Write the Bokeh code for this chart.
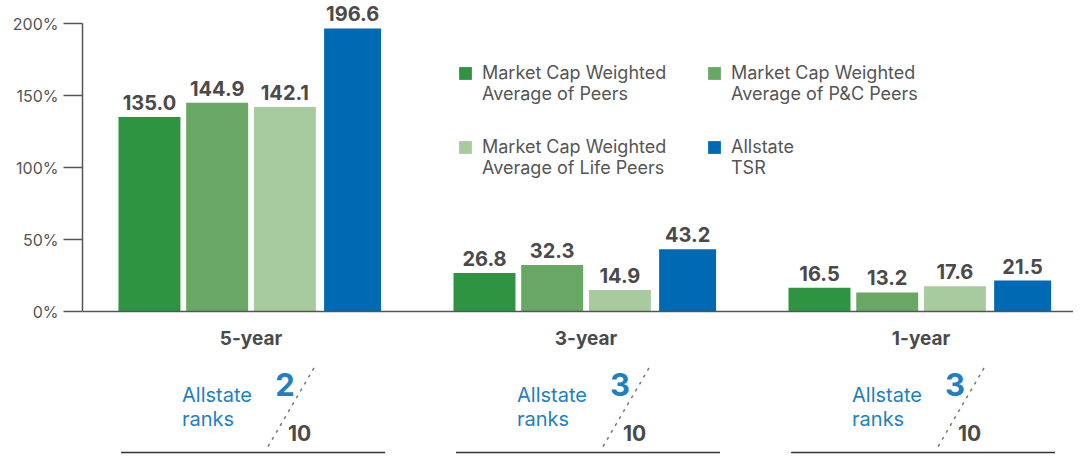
from bokeh.plotting import figure
from bokeh.models import ColumnDataSource, Span, FixedTicker, Legend, LegendItem
from bokeh.core.properties import value
from bokeh.embed import file_html
from bokeh.resources import INLINE

# ---------------- data ----------------
periods = ["5-year", "3-year", "1-year"]
series_names = [
    "Market Cap Weighted\nAverage of Peers",
    "Market Cap Weighted\nAverage of P&C Peers",
    "Market Cap Weighted\nAverage of Life Peers",
    "Allstate\nTSR",
]
peers = [135.0, 26.8, 16.5]
pc_peers = [144.9, 32.3, 13.2]
life_peers = [142.1, 14.9, 17.6]
allstate_tsr = [196.6, 43.2, 21.5]
ranks = ["2", "3", "3"]
rank_total = "10"
y_ticks = [0, 50, 100, 150, 200]
y_tick_labels = ["0%", "50%", "100%", "150%", "200%"]

colors = ["#2e9441", "#69a864", "#a8ca9f", "#0069b4"]
FONT = "Inter"
TXT = "#4a4a4a"
BLUE_TXT = "#1f7fc2"

# ---------------- layout ----------------
W, H = 1073, 454
LEFT = 82
x_range = (-0.503, 2.455)
y_range = (-(H - 311) / 1.44, 200 + 23 / 1.44)
XPX = (x_range[1] - x_range[0]) / (W - LEFT)   # data units per px (x)
YPX = (y_range[1] - y_range[0]) / H            # data units per px (y)
step = 0.2021
bar_w = [0.185, 0.185, 0.185, 0.17]

p = figure(width=W, height=H, x_range=x_range, y_range=y_range,
           output_backend="svg", toolbar_location=None,
           x_axis_location=None, min_border_left=LEFT, min_border_right=0,
           min_border_top=0, min_border_bottom=0, outline_line_color=None)
p.xgrid.visible = False
p.ygrid.visible = False

yax = p.yaxis[0]
yax.bounds = (0, 200)
yax.ticker = FixedTicker(ticks=y_ticks)
yax.major_label_overrides = {t: l for t, l in zip(y_ticks, y_tick_labels)}
yax.axis_line_color = "#555555"
yax.axis_line_width = 1.5
yax.major_tick_line_color = "#555555"
yax.major_tick_line_width = 1.5
yax.major_tick_out = 19
yax.major_tick_in = 0
yax.minor_tick_line_color = None
yax.major_label_standoff = 5
yax.major_label_text_font = FONT
yax.major_label_text_font_size = "16px"
yax.major_label_text_color = "#555555"

p.add_layout(Span(location=0, dimension="width", line_color="#555555", line_width=1.5))

all_series = [peers, pc_peers, life_peers, allstate_tsr]
renderers = []
for j, vals in enumerate(all_series):
    xs = [i + (j - 1.5) * step for i in range(len(periods))]
    src = ColumnDataSource(dict(x=xs, top=vals, lab=["%.1f" % v for v in vals]))
    r = p.vbar(x="x", top="top", width=bar_w[j], bottom=0, source=src,
               fill_color=colors[j], line_color=None)
    p.text(x="x", y="top", text="lab", source=src, text_align="center",
           text_baseline="bottom", y_offset=-7, text_font=value(FONT),
           text_font_style="bold", text_font_size="20px", text_color=TXT)
    renderers.append(r)

gx = list(range(len(periods)))
zeros = [0] * len(periods)
p.text(x=gx, y=zeros, text=periods, text_align="center", text_baseline="middle",
       y_offset=27, text_font=value(FONT), text_font_style="bold",
       text_font_size="19px", text_color=TXT)

# rank annotations
p.text(x=gx, y=zeros, text=["Allstate"] * 3, x_offset=-69, y_offset=83,
       text_align="left", text_baseline="middle", text_font=value(FONT),
       text_font_size="20px", text_color=BLUE_TXT)
p.text(x=gx, y=zeros, text=["ranks"] * 3, x_offset=-69, y_offset=107,
       text_align="left", text_baseline="middle", text_font=value(FONT),
       text_font_size="20px", text_color=BLUE_TXT)
p.text(x=gx, y=zeros, text=ranks, x_offset=34, y_offset=73,
       text_align="center", text_baseline="middle", text_font=value(FONT),
       text_font_style="bold", text_font_size="31px", text_color=BLUE_TXT)
p.text(x=gx, y=zeros, text=[rank_total] * 3, x_offset=37, y_offset=121,
       text_align="left", text_baseline="middle", text_font=value(FONT),
       text_font_style="bold", text_font_size="21px", text_color=TXT)
p.segment(x0=[i + 17 * XPX for i in gx], y0=[-135 * YPX] * 3,
          x1=[i + 65 * XPX for i in gx], y1=[-53 * YPX] * 3,
          line_color="#777777", line_width=1.5, line_dash="3 5")
p.segment(x0=[i - 130 * XPX for i in gx], y0=[-141 * YPX] * 3,
          x1=[i + 134 * XPX for i in gx], y1=[-141 * YPX] * 3,
          line_color="#333333", line_width=1.5)

# legend: rows = (Peers, P&C), (Life, TSR); Bokeh fills columns first
order = [0, 2, 1, 3]
items = [LegendItem(label="\n" + series_names[k], renderers=[renderers[k]]) for k in order]
legend = Legend(items=items, ncols=2, location=(375, 276),
                glyph_width=16, glyph_height=16, label_standoff=9,
                spacing=11, padding=0, margin=0, label_width=213,
                border_line_color=None, background_fill_alpha=0,
                label_text_font=FONT, label_text_font_size="18px",
                label_text_color="#555555", label_text_line_height=1.15)
p.add_layout(legend, "center")

open("out.html", "w").write(file_html(p, INLINE))
